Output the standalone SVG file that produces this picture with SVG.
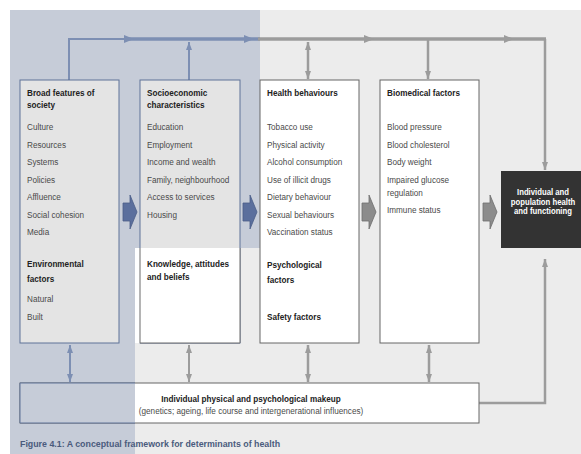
<svg xmlns="http://www.w3.org/2000/svg" width="581" height="454" viewBox="0 0 581 454">
<style>
.t{font-family:"Liberation Sans",Arial,sans-serif;font-size:9.5px;fill:#4a4a4a}
.h{font-weight:bold;fill:#222}
.w{font-weight:bold;fill:#fff;text-anchor:middle;font-size:9px}
.bl{fill:none;stroke:#7d8fb3}
.gr{fill:none;stroke:#9c9c9c}
.bb{fill:#5b6f9d;stroke:#4b5e88;stroke-width:0.8}
.gb{fill:#8c8c8c;stroke:#6e6e6e;stroke-width:0.8}
</style>
<defs>
<marker id="mb" viewBox="0 0 10 10" refX="10" refY="5" markerWidth="8" markerHeight="6" markerUnits="userSpaceOnUse" orient="auto-start-reverse" preserveAspectRatio="none"><path d="M0,0 L10,5 L0,10 z" fill="#7d8fb3"/></marker>
<marker id="mg" viewBox="0 0 10 10" refX="10" refY="5" markerWidth="8" markerHeight="6" markerUnits="userSpaceOnUse" orient="auto-start-reverse" preserveAspectRatio="none"><path d="M0,0 L10,5 L0,10 z" fill="#9c9c9c"/></marker>
</defs>
<rect x="10" y="10" width="571" height="444" fill="#ececec"/>
<path d="M10,10 H260 V248 H135 V454 H10 Z" fill="#c6ccd8"/>

<g id="connectors">
<path class="bl" stroke-width="2" d="M69,80 V39 H130"/>
<path class="bl" stroke-width="3.5" d="M128,39 H260"/>
<path class="gr" stroke-width="3.5" d="M258,39 H546"/>
<path class="gr" stroke-width="2.5" d="M545,39 V170" marker-end="url(#mg)"/>
<polygon points="124,35 134,39 124,43" fill="#7d8fb3"/>
<polygon points="244,35 254,39 244,43" fill="#7d8fb3"/>
<polygon points="364,35 374,39 364,43" fill="#9c9c9c"/>
<polygon points="504,35 514,39 504,43" fill="#9c9c9c"/>
<path class="bl" stroke-width="2" d="M189,80 V42" marker-end="url(#mb)"/>
<path class="gr" stroke-width="2.5" d="M308,42 V79" marker-start="url(#mg)" marker-end="url(#mg)"/>
<path class="gr" stroke-width="2.5" d="M428,40 V79" marker-end="url(#mg)"/>
<path class="bl" stroke-width="2" d="M70,345 V382" marker-start="url(#mb)" marker-end="url(#mb)"/>
<path class="gr" stroke-width="2" d="M189,345 V382" marker-start="url(#mg)" marker-end="url(#mg)"/>
<path class="gr" stroke-width="2.5" d="M308,345 V382" marker-start="url(#mg)" marker-end="url(#mg)"/>
<path class="gr" stroke-width="2.5" d="M429,345 V382" marker-start="url(#mg)" marker-end="url(#mg)"/>
<path class="gr" stroke-width="2.5" d="M479,403 H545 V259" marker-end="url(#mg)"/>
<polygon class="bb" points="123,203 130,203 130,195 137,212 130,229 130,221 123,221"/>
<polygon class="bb" points="243,203 250,203 250,195 257,212 250,229 250,221 243,221"/>
<polygon class="gb" points="362,203 369,203 369,195 376,212 369,229 369,221 362,221"/>
<polygon class="gb" points="483,203 490,203 490,195 497,212 490,229 490,221 483,221"/>
</g>

<g id="broad">
<rect x="20" y="80" width="99" height="263" fill="#e4e4e4" stroke="#5f7398" stroke-width="1"/>
<g transform="translate(27,0) scale(0.86,1)">
<text class="t h" x="0" y="96.5">Broad features of</text>
<text class="t h" x="0" y="108.5">society</text>
<text class="t" x="0" y="130.5">Culture</text>
<text class="t" x="0" y="148">Resources</text>
<text class="t" x="0" y="165.5">Systems</text>
<text class="t" x="0" y="183">Policies</text>
<text class="t" x="0" y="200.5">Affluence</text>
<text class="t" x="0" y="218">Social cohesion</text>
<text class="t" x="0" y="235.5">Media</text>
<text class="t h" x="0" y="267.5">Environmental</text>
<text class="t h" x="0" y="282.5">factors</text>
<text class="t" x="0" y="302.5">Natural</text>
<text class="t" x="0" y="320.5">Built</text>
</g>
</g>

<g id="socio">
<rect x="140" y="80" width="100" height="263" fill="#e4e4e4" stroke="#5f7398" stroke-width="1"/>
<rect x="135" y="248" width="105" height="95" fill="#fff"/>
<path d="M140,248 V343 H240 V248" fill="none" stroke="#6a6a6a" stroke-width="1"/>
<g transform="translate(147,0) scale(0.86,1)">
<text class="t h" x="0" y="96.5">Socioeconomic</text>
<text class="t h" x="0" y="108.5">characteristics</text>
<text class="t" x="0" y="130.5">Education</text>
<text class="t" x="0" y="148">Employment</text>
<text class="t" x="0" y="165.5">Income and wealth</text>
<text class="t" x="0" y="183">Family, neighbourhood</text>
<text class="t" x="0" y="200.5">Access to services</text>
<text class="t" x="0" y="218">Housing</text>
</g>
</g>

<g id="knowledge">
<g transform="translate(147,0) scale(0.86,1)">
<text class="t h" x="0" y="267.5">Knowledge, attitudes</text>
<text class="t h" x="0" y="280.5">and beliefs</text>
</g>
</g>

<g id="health">
<rect x="260" y="80" width="99" height="263" fill="#fff" stroke="#666" stroke-width="1"/>
<g transform="translate(267,0) scale(0.86,1)">
<text class="t h" x="0" y="96.5">Health behaviours</text>
<text class="t" x="0" y="130.5">Tobacco use</text>
<text class="t" x="0" y="148">Physical activity</text>
<text class="t" x="0" y="165.5">Alcohol consumption</text>
<text class="t" x="0" y="183">Use of illicit drugs</text>
<text class="t" x="0" y="200.5">Dietary behaviour</text>
<text class="t" x="0" y="218">Sexual behaviours</text>
<text class="t" x="0" y="235.5">Vaccination status</text>
<text class="t h" x="0" y="268.5">Psychological</text>
<text class="t h" x="0" y="283.5">factors</text>
<text class="t h" x="0" y="320.5">Safety factors</text>
</g>
</g>

<g id="biomedical">
<rect x="380" y="80" width="99" height="263" fill="#fff" stroke="#666" stroke-width="1"/>
<g transform="translate(387,0) scale(0.86,1)">
<text class="t h" x="0" y="96.5">Biomedical factors</text>
<text class="t" x="0" y="130.5">Blood pressure</text>
<text class="t" x="0" y="148">Blood cholesterol</text>
<text class="t" x="0" y="165.5">Body weight</text>
<text class="t" x="0" y="183">Impaired glucose</text>
<text class="t" x="0" y="196.5">regulation</text>
<text class="t" x="0" y="213.5">Immune status</text>
</g>
</g>

<g id="outcome">
<rect x="501" y="171" width="80" height="77" fill="#333"/>
<g transform="translate(543,0) scale(0.86,1)">
<text class="t w" x="0" y="195.5">Individual and</text>
<text class="t w" x="0" y="205">population health</text>
<text class="t w" x="0" y="214.5">and functioning</text>
</g>
</g>

<g id="makeup">
<rect x="20" y="383" width="459" height="40" fill="#fff" stroke="#666" stroke-width="1"/>
<rect x="20" y="383" width="115" height="40" fill="#c6ccd8"/>
<path d="M135,383 H20 V423 H135" fill="none" stroke="#5f7398" stroke-width="1"/>
<g transform="translate(251,0) scale(0.86,1)">
<text class="t h" x="0" y="402" text-anchor="middle">Individual physical and psychological makeup</text>
<text class="t" x="0" y="414.5" text-anchor="middle">(genetics; ageing, life course and intergenerational influences)</text>
</g>
</g>

<g transform="translate(20,0) scale(0.93,1)">
<text class="t h" x="0" y="447" style="fill:#4a5b7d">Figure 4.1: A conceptual framework for determinants of health</text>
</g>
</svg>
